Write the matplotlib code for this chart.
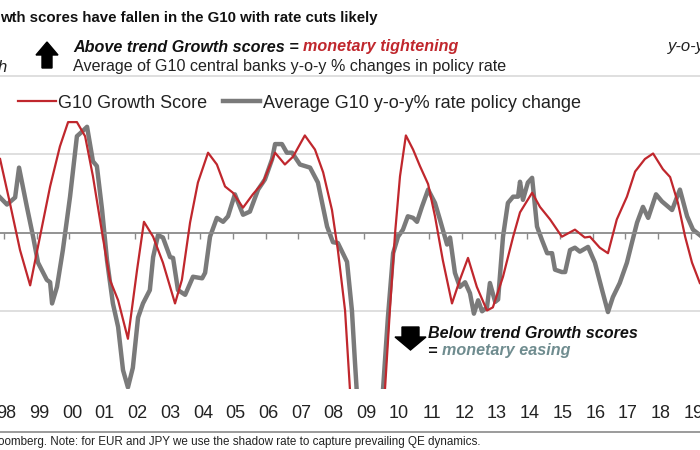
import matplotlib
matplotlib.use("Agg")
import matplotlib.pyplot as plt
import matplotlib.transforms as mtransforms
from matplotlib.patches import Polygon
from matplotlib.lines import Line2D

plt.rcParams['font.family'] = ['Liberation Sans', 'DejaVu Sans']

# ---- data (year fraction, value) ----
growth_t = [1997.88, 1998.18, 1998.49, 1998.80, 1999.10, 1999.41, 1999.71, 1999.96, 2000.23, 2000.48,
            2000.72, 2001.00, 2001.24, 2001.49, 2001.79, 2002.07, 2002.28, 2002.56, 2002.86, 2003.23,
            2003.44, 2003.69, 2003.93, 2004.24, 2004.51, 2004.76, 2005.00, 2005.31, 2005.61, 2005.92,
            2006.29, 2006.59, 2006.84, 2007.20, 2007.51, 2007.76, 2008.03, 2008.21, 2008.43, 2008.58,
            2008.76, 2009.04, 2009.25, 2009.50, 2009.65, 2009.80, 2009.96, 2010.11, 2010.29, 2010.51,
            2010.72, 2010.97, 2011.18, 2011.42, 2011.70, 2011.94, 2012.19, 2012.46, 2012.77, 2012.95,
            2013.26, 2013.57, 2013.78, 2014.15, 2014.39, 2014.70, 2015.06, 2015.46, 2015.76, 2015.92,
            2016.22, 2016.47, 2016.74, 2017.05, 2017.30, 2017.60, 2017.85, 2018.15, 2018.37, 2018.61,
            2018.83, 2019.04, 2019.28]
growth_v = [0.94, 0.38, -0.22, -0.67, -0.05, 0.59, 1.10, 1.41, 1.41, 1.23,
            0.72, 0.00, -0.60, -0.86, -1.35, -0.47, 0.14, -0.05, -0.38, -0.90,
            -0.60, 0.13, 0.64, 1.02, 0.87, 0.59, 0.51, 0.32, 0.49, 0.64,
            1.02, 0.87, 0.97, 1.24, 1.06, 0.77, 0.29, -0.22, -0.99, -2.00,
            -3.00, -3.80, -3.60, -2.90, -2.00, -0.99, 0.00, 0.72, 1.24, 1.06,
            0.85, 0.62, 0.21, -0.35, -0.90, -0.60, -0.32, -0.69, -0.99, -0.95,
            -0.56, -0.05, 0.26, 0.51, 0.33, 0.17, -0.05, 0.04, -0.06, -0.05,
            -0.19, -0.26, 0.17, 0.46, 0.78, 0.94, 1.01, 0.81, 0.71, 0.38,
            -0.05, -0.38, -0.64]

rate_t = [1997.88, 1998.09, 1998.34, 1998.46, 1998.70, 1998.89, 1999.04, 1999.31, 1999.41, 1999.47,
          1999.62, 1999.80, 2000.02, 2000.23, 2000.39, 2000.54, 2000.72, 2000.84, 2001.00, 2001.15,
          2001.33, 2001.49, 2001.64, 2001.79, 2001.94, 2002.10, 2002.25, 2002.46, 2002.56, 2002.71,
          2002.86, 2003.08, 2003.17, 2003.32, 2003.54, 2003.78, 2004.06, 2004.15, 2004.30, 2004.51,
          2004.70, 2004.85, 2005.06, 2005.31, 2005.52, 2005.77, 2005.98, 2006.20, 2006.29, 2006.50,
          2006.65, 2006.81, 2007.05, 2007.36, 2007.60, 2007.88, 2008.06, 2008.21, 2008.49, 2008.64,
          2008.73, 2008.83, 2009.04, 2009.25, 2009.44, 2009.59, 2009.74, 2009.90, 2010.05, 2010.20,
          2010.35, 2010.51, 2010.63, 2010.78, 2010.97, 2011.18, 2011.33, 2011.55, 2011.64, 2011.79,
          2011.94, 2012.10, 2012.25, 2012.37, 2012.50, 2012.62, 2012.77, 2012.86, 2013.02, 2013.11,
          2013.26, 2013.41, 2013.57, 2013.72, 2013.78, 2013.87, 2014.02, 2014.15, 2014.30, 2014.45,
          2014.61, 2014.76, 2014.85, 2015.06, 2015.16, 2015.31, 2015.46, 2015.61, 2015.86, 2016.07,
          2016.29, 2016.47, 2016.62, 2016.83, 2017.05, 2017.20, 2017.36, 2017.54, 2017.70, 2017.94,
          2018.12, 2018.43, 2018.67, 2018.89, 2019.07, 2019.28]
rate_v = [0.45, 0.36, 0.45, 0.83, 0.33, -0.05, -0.38, -0.60, -0.63, -0.90,
          -0.69, -0.22, 0.46, 1.23, 1.29, 1.35, 0.91, 0.85, 0.29, -0.35,
          -0.90, -1.20, -1.75, -1.97, -1.72, -1.08, -0.90, -0.73, -0.31, -0.03,
          -0.06, -0.31, -0.32, -0.73, -0.79, -0.56, -0.58, -0.51, -0.05, 0.19,
          0.14, 0.21, 0.49, 0.23, 0.27, 0.55, 0.68, 0.94, 1.13, 1.13,
          1.02, 1.02, 0.87, 0.83, 0.64, 0.08, -0.12, -0.13, -0.37, -0.99,
          -1.63, -2.30, -3.20, -3.40, -2.80, -2.00, -1.08, -0.26, -0.05, 0.04,
          0.21, 0.19, 0.14, 0.33, 0.55, 0.38, 0.17, -0.15, -0.06, -0.51,
          -0.69, -0.63, -0.77, -1.03, -0.86, -1.00, -0.95, -0.64, -0.88, -0.85,
          -0.05, 0.38, 0.46, 0.46, 0.65, 0.42, 0.64, 0.70, 0.08, -0.09,
          -0.26, -0.26, -0.47, -0.50, -0.50, -0.22, -0.19, -0.24, -0.18, -0.38,
          -0.73, -1.01, -0.82, -0.64, -0.38, -0.13, 0.13, 0.33, 0.19, 0.49,
          0.40, 0.29, 0.55, 0.21, 0.04, -0.03]

years = list(range(1998, 2020))
year_labels = ['98', '99', '00', '01', '02', '03', '04', '05', '06', '07', '08',
               '09', '10', '11', '12', '13', '14', '15', '16', '17', '18', '19']

RED = '#c0272d'
GREY = '#7a7a7a'
W, H = 700, 450

fig = plt.figure(figsize=(7, 4.5), dpi=100)
fig.patch.set_facecolor('white')

def fy(p):  # pixel y (from top) -> figure fraction
    return 1 - p / H

def fx(p):
    return p / W

ax = fig.add_axes([0, fy(389), 1, (389 - 75) / H])
ax.set_xlim(1998 - 4 / 32.7, 1998 + 696 / 32.7)
ax.set_ylim(-1.99, 2.01)
for s in ['left', 'right', 'top']:
    ax.spines[s].set_visible(False)
ax.spines['bottom'].set_position(('data', 0))
ax.spines['bottom'].set_color('#8a8a8a')
ax.spines['bottom'].set_linewidth(1.3)
ax.set_xticks(years)
ax.tick_params(axis='x', direction='out', length=4, width=1, color='#8a8a8a', labelbottom=False)
ax.set_yticks([])
for g in [-2, -1, 1, 2]:
    ax.axhline(g, color='#d9d9d9', lw=1.2, zorder=0)

l1, = ax.plot(growth_t, growth_v, color=RED, lw=1.6, zorder=4, label='G10 Growth Score')
l2, = ax.plot(rate_t, rate_v, color=GREY, lw=3.2, zorder=2,
              label='Average G10 y-o-y% rate policy change')

# year labels below the plot
trans = mtransforms.blended_transform_factory(ax.transData, fig.transFigure)
for yr, lab in zip(years, year_labels):
    ax.text(yr + 0.08, fy(413), lab, transform=trans, ha='center', va='center',
            fontsize=13, color='#222222', clip_on=False)

leg = ax.legend(handles=[l1, l2], loc='center left', bbox_to_anchor=(fx(18), fy(103)),
                bbox_transform=fig.transFigure, ncol=2, frameon=False, fontsize=13,
                handlelength=2.1, handletextpad=0.12, columnspacing=0.85, borderpad=0,
                borderaxespad=0)
for t in leg.get_texts():
    t.set_color('#222222')

# header texts
fig.text(0, fy(18), 'wth scores have fallen in the G10 with rate cuts likely', fontsize=10.8,
         fontweight='bold', va='center', ha='left', color='#111111')
t1 = fig.text(fx(73), fy(47), 'Above trend Growth scores = ', fontsize=11.6, fontweight='bold',
              fontstyle='italic', va='center', ha='left', color='#111111')
fig.canvas.draw()
bb = t1.get_window_extent()
fig.text(bb.x1 / W, fy(47), 'monetary tightening', fontsize=11.6, fontweight='bold',
         fontstyle='italic', va='center', ha='left', color=RED)
fig.text(fx(73), fy(66), 'Average of G10 central banks y-o-y % changes in policy rate', fontsize=11.6,
         va='center', ha='left', color='#222222')
fig.text(fx(-2), fy(68), 'h', fontsize=12, fontstyle='italic', va='center', ha='left', color='#222222')
fig.text(fx(668), fy(47), 'y-o-y', fontsize=12, fontstyle='italic', va='center', ha='left', color='#222222')

# up arrow
up = [(36, 55), (47, 42), (58, 55), (52, 55), (52, 68), (42, 68), (42, 55)]
fig.patches.append(Polygon([(fx(x), fy(y)) for x, y in up], closed=True, transform=fig.transFigure,
                           facecolor='black', edgecolor='black', figure=fig))
# down arrow
dn = [(402, 327), (419, 327), (419, 337), (426, 337), (410.5, 350), (395, 337), (402, 337)]
fig.patches.append(Polygon([(fx(x), fy(y)) for x, y in dn], closed=True, transform=fig.transFigure,
                           facecolor='black', edgecolor='black', figure=fig))

fig.text(fx(428), fy(333), 'Below trend Growth scores', fontsize=11.6, fontweight='bold',
         fontstyle='italic', va='center', ha='left', color='#111111')
t2 = fig.text(fx(428), fy(351), '= ', fontsize=11.6, fontweight='bold',
              fontstyle='italic', va='center', ha='left', color='#111111')
fig.canvas.draw()
bb2 = t2.get_window_extent()
fig.text(bb2.x1 / W, fy(351), 'monetary easing', fontsize=11.6, fontweight='bold',
         fontstyle='italic', va='center', ha='left', color='#6f8c8f')

# separator line and footnote
fig.add_artist(Line2D([0, 1], [fy(432), fy(432)], transform=fig.transFigure, color='#8a8a8a', lw=1.2))
fig.text(fx(-2), fy(442), 'oomberg. Note: for EUR and JPY we use the shadow rate to capture prevailing QE dynamics.',
         fontsize=8.4, va='center', ha='left', color='#222222')

fig.savefig('out.png', dpi=100, facecolor='white')
